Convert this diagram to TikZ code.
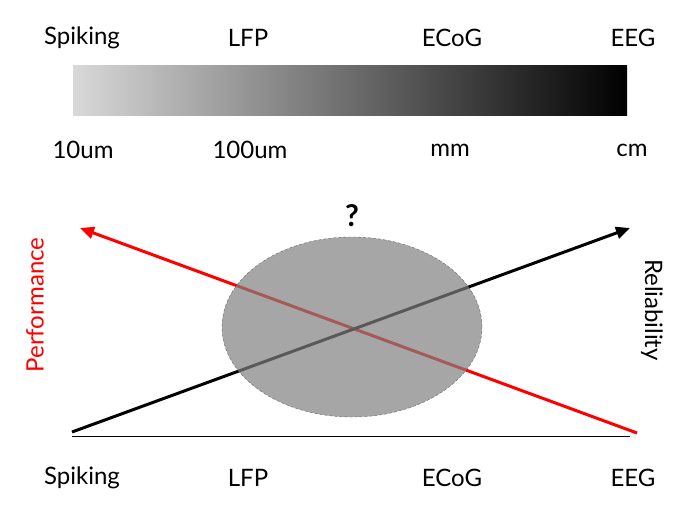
\documentclass[tikz,border=0pt]{standalone}
\usepackage{fontspec}
\setmainfont{Lato}
\usetikzlibrary{arrows.meta,shapes.geometric}
\begin{document}
\begin{tikzpicture}[x=1pt,y=-1pt,
  lbl/.style={font=\fontsize{24}{28}\selectfont, inner sep=0pt},
  arr/.style={line width=3pt,-{Triangle[length=14pt,width=12pt]}}]
\useasboundingbox (0,0) rectangle (700,517);
\shade[left color=black!15, right color=black] (73,65) rectangle (627,115);
\node[lbl] (t1) at (82,38) {Spiking};
\node[lbl] (t2) at (248,38) {LFP};
\node[lbl] (t3) at (452,38) {ECoG};
\node[lbl] (t4) at (633,38) {EEG};
\node[lbl] (s1) at (83,150) {10um};
\node[lbl] (s2) at (250,150) {100um};
\node[lbl] (s3) at (450,150) {mm};
\node[lbl] (s4) at (632,150) {cm};
\coordinate (rs) at (637,433);
\coordinate (re) at (80,228);
\coordinate (bs) at (72,432);
\coordinate (be) at (630,228);
\draw[arr,red] (rs) -- (re);
\draw[arr,black] (bs) -- (be);
\node[ellipse, minimum width=260pt, minimum height=180pt, fill=black!50, fill opacity=0.7, draw=black!60, densely dashed, draw opacity=1] (e) at (352,327) {};
\node[font=\fontsize{30}{34}\selectfont\bfseries] (q) at (352,216) {?};
\coordinate (b1) at (72,436);
\coordinate (b2) at (630,436);
\draw[line width=1pt] (b1) -- (b2);
\node[lbl, red, rotate=90] (p) at (35,305) {Performance};
\node[lbl, rotate=-90] (r) at (652,310) {Reliability};
\node[lbl] (u1) at (82,478) {Spiking};
\node[lbl] (u2) at (248,478) {LFP};
\node[lbl] (u3) at (452,478) {ECoG};
\node[lbl] (u4) at (633,478) {EEG};
\end{tikzpicture}
\end{document}
